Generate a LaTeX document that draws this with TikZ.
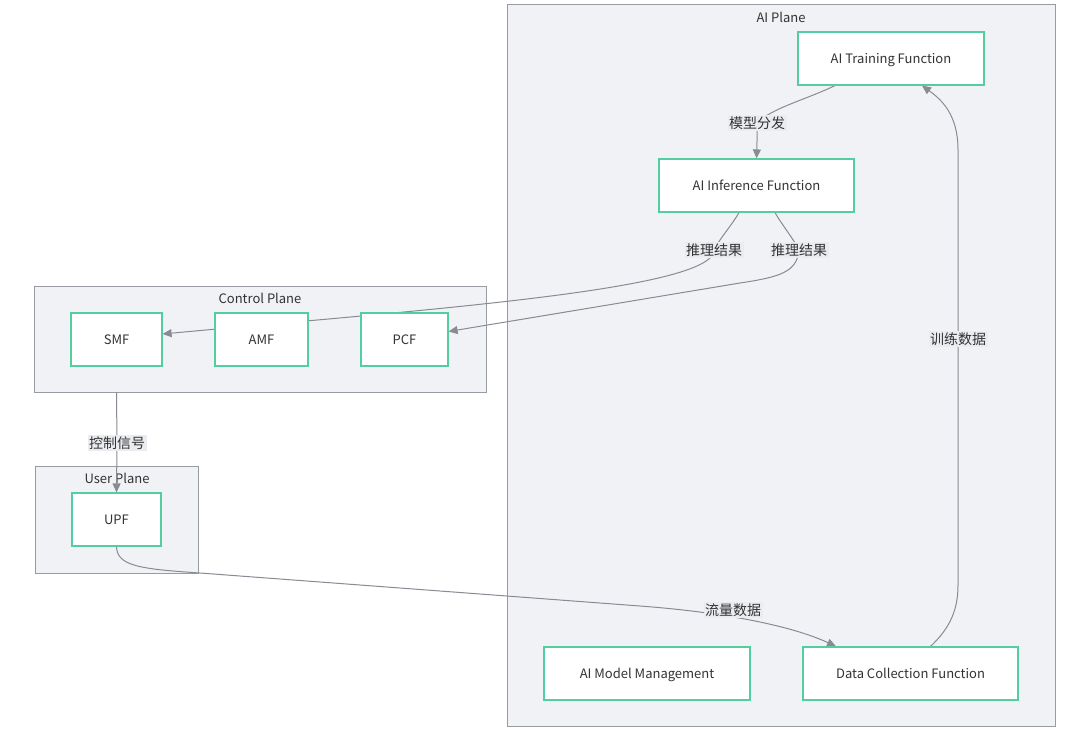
\documentclass[tikz,border=0pt]{standalone}
\usepackage{fontspec}
\setmainfont{Noto Sans CJK SC}
\usetikzlibrary{arrows.meta}

\definecolor{planefill}{RGB}{241,242,245}
\definecolor{planeline}{RGB}{153,155,162}
\definecolor{funcline}{RGB}{82,206,160}
\definecolor{flowline}{RGB}{136,139,147}
\definecolor{labelfill}{RGB}{234,236,240}
\definecolor{textcol}{RGB}{51,51,51}

\pgfdeclarelayer{background}
\pgfdeclarelayer{edges}
\pgfsetlayers{background,edges,main}

\begin{document}
\begin{tikzpicture}[x=1pt,y=1pt,
    font=\fontsize{13}{15}\selectfont,text=textcol,
    plane/.style={draw=planeline,fill=planefill,line width=1pt,inner sep=0pt},
    func/.style={draw=funcline,fill=white,line width=1.2pt,minimum height=53pt,inner sep=0pt,
        text height=12pt,text depth=2.8pt},
    flow/.style={draw=flowline,line width=1pt,-{Triangle[length=9pt,width=8pt]}},
    flowlabel/.style={fill=labelfill,inner sep=1.5pt,font=\fontsize{14}{16}\selectfont}]

\useasboundingbox (0,0) rectangle (1073,-746);

% Planes
\begin{pgfonlayer}{background}
\node[plane,minimum width=548pt,minimum height=721pt] (aiplane) at (781,-365.5) {};
\node[plane,minimum width=452pt,minimum height=106pt] (ctrlplane) at (260,-339) {};
\node[plane,minimum width=163pt,minimum height=107pt] (userplane) at (116.5,-519.5) {};

\node (aititle) at (781,-17) {AI Plane};
\node (ctrltitle) at (260,-298) {Control Plane};
\node (usertitle) at (117,-478) {User Plane};
\end{pgfonlayer}

% Functions
\node[func,minimum width=186pt] (train) at (891,-58.5) {AI Training Function};
\node[func,minimum width=195pt] (infer) at (756.5,-185.5) {AI Inference Function};
\node[func,minimum width=206pt] (mgmt) at (647,-673.5) {AI Model Management};
\node[func,minimum width=215pt] (collect) at (910.5,-673.5) {Data Collection Function};
\node[func,minimum width=91pt] (smf) at (116.5,-339.5) {SMF};
\node[func,minimum width=93pt] (amf) at (261.5,-339.5) {AMF};
\node[func,minimum width=87pt] (pcf) at (404.5,-339.5) {PCF};
\node[func,minimum width=89pt] (upf) at (116.5,-519.5) {UPF};

% Labels
\node[flowlabel] (distlabel) at (757,-123) {模型分发};
\node[flowlabel] (smflabel) at (714,-250) {推理结果};
\node[flowlabel] (pcflabel) at (799,-250) {推理结果};
\node[flowlabel] (ctrllabel) at (117,-443) {控制信号};
\node[flowlabel] (trafficlabel) at (733,-610) {流量数据};
\node[flowlabel] (trainlabel) at (958,-339) {训练数据};

% Flows
\begin{pgfonlayer}{edges}
\draw[flow] ([xshift=-56pt]train.south)
    .. controls (805,-100) and (772,-108) .. (distlabel.center)
    .. controls (757,-138) and (757,-148) .. (infer.north);
\draw[flow] ([xshift=-17.5pt]infer.south)
    .. controls (732,-225) and (720,-238) .. (smflabel.center)
    .. controls (714,-290) and (420,-310) .. ([yshift=5.5pt]smf.east);
\draw[flow] ([xshift=18.5pt]infer.south)
    .. controls (782,-225) and (793,-238) .. (pcflabel.center)
    .. controls (797,-272) and (780,-277) .. (740,-283)
    -- ([yshift=8pt]pcf.east);
\draw[flow] (ctrlplane.south -| upf.north) -- (ctrllabel) -- (upf.north);
\draw[flow] (upf.south)
    .. controls (117,-566) and (140,-569) .. (200,-573)
    -- (640,-606)
    .. controls (720,-612) and (790,-625) .. ([xshift=-74.5pt]collect.north);
\draw[flow] ([xshift=20pt]collect.north)
    .. controls (950,-628) and (958,-610) .. (958,-585)
    -- (trainlabel.center)
    -- (958,-150)
    .. controls (958,-115) and (942,-100) .. ([xshift=31pt]train.south);
\end{pgfonlayer}

\end{tikzpicture}
\end{document}
